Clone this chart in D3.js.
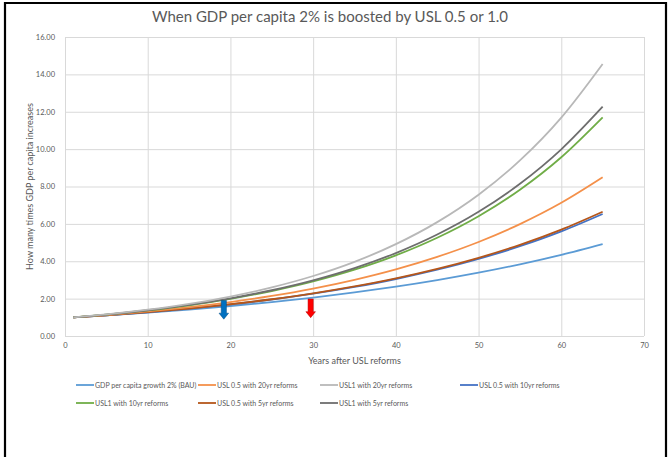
<!DOCTYPE html>
<html><head><meta charset="utf-8">
<script src="https://cdn.jsdelivr.net/npm/d3@7"></script>
<style>
html,body{margin:0;padding:0;background:#fff;}
svg text{font-family:Lato,"Open Sans",sans-serif;}
</style></head>
<body>
<svg id="c" width="669" height="457"></svg>
<script>
// ---- data ----
const years = [1,5,10,15,20,25,30,35,40,45,50,55,60,65];
const bau      = [1.00,1.105,1.251,1.417,1.605,1.817,2.058,2.331,2.640,2.990,3.386,3.835,4.343,4.92];
const usl05_20 = [1.00,1.123,1.313,1.543,1.818,2.146,2.538,3.008,3.567,4.235,5.032,5.987,7.126,8.49];
const usl1_20  = [1.00,1.157,1.407,1.721,2.113,2.602,3.210,3.969,4.914,6.093,7.561,9.397,11.69,14.56];
const usl05_10 = [1.00,1.108,1.270,1.463,1.689,1.954,2.264,2.627,3.050,3.546,4.125,4.804,5.598,6.53];
const usl1_10  = [1.00,1.143,1.368,1.646,1.988,2.407,2.919,3.547,4.316,5.258,6.411,7.828,9.566,11.70];
const usl05_5  = [1.00,1.109,1.273,1.468,1.698,1.967,2.282,2.652,3.084,3.591,4.184,4.879,5.694,6.65];
const usl1_5   = [1.00,1.146,1.377,1.662,2.015,2.448,2.980,3.635,4.439,5.429,6.645,8.145,9.991,12.27];
const seriesNames = ["GDP per capita growth 2% (BAU)","USL 0.5 with 20yr reforms","USL1 with 20yr reforms","USL 0.5 with 10yr reforms","USL1 with 10yr reforms","USL 0.5 with 5yr reforms","USL1 with 5yr reforms"];
const seriesValues = [bau, usl05_20, usl1_20, usl05_10, usl1_10, usl05_5, usl1_5];
const seriesColors = ["#5B9BD5","#F4904A","#B8B8B8","#4472C4","#70AD47","#B5561A","#6E6E6E"];
const xTicks = [0,10,20,30,40,50,60,70];
const yTicks = [0,2,4,6,8,10,12,14,16];
// arrows: x (years), from value, to value
const arrowX = [19.2, 29.7];
const arrowFrom = [1.90, 1.98];
const arrowTo = [0.90, 0.98];
const arrowColors = ["#0070C0","#FF0000"];
const title = "When GDP per capita 2% is boosted by USL 0.5 or 1.0";
const xTitle = "Years after USL reforms";
const yTitle = "How many times GDP per capita increases";

// ---- layout ----
const svg = d3.select("#c");
const L = 65, R = 644, T = 37, B = 336;
const x = d3.scaleLinear().domain([0,70]).range([L,R]);
const y = d3.scaleLinear().domain([0,16]).range([B,T]);
const txt = "#595959";

// outer frame
svg.append("path").attr("d","M5,457 V3 H666 V457").attr("fill","none").attr("stroke","#000").attr("stroke-width",2.2);

// title
svg.append("text").attr("x",330).attr("y",22).attr("text-anchor","middle")
  .attr("font-size",15).attr("fill",txt).text(title);

// gridlines
const g = svg.append("g");
g.selectAll("line.h").data(yTicks).join("line").attr("class","h")
  .attr("x1",L).attr("x2",R).attr("y1",d=>y(d)+0.5).attr("y2",d=>y(d)+0.5)
  .attr("stroke","#D9D9D9").attr("stroke-width",1);
g.selectAll("line.v").data(xTicks).join("line").attr("class","v")
  .attr("y1",T).attr("y2",B).attr("x1",d=>x(d)+0.5).attr("x2",d=>x(d)+0.5)
  .attr("stroke","#D9D9D9").attr("stroke-width",1);

// axes (labels only)
const ya = d3.axisLeft(y).tickValues(yTicks).tickFormat(d3.format(".2f")).tickSize(0).tickPadding(10);
const yg = svg.append("g").attr("transform",`translate(${L},0)`).call(ya);
yg.select(".domain").remove();
yg.selectAll("text").attr("font-size",7.5).attr("fill",txt).style("font-family","Lato,sans-serif");
const xa = d3.axisBottom(x).tickValues(xTicks).tickFormat(d3.format("d")).tickSize(0).tickPadding(7);
const xg = svg.append("g").attr("transform",`translate(0,${B})`).call(xa);
xg.select(".domain").remove();
xg.selectAll("text").attr("font-size",7.5).attr("fill",txt).style("font-family","Lato,sans-serif");

// axis titles
svg.append("text").attr("x",(L+R)/2).attr("y",364).attr("text-anchor","middle")
  .attr("font-size",9).attr("fill",txt).text(xTitle);
svg.append("text").attr("transform",`translate(33,${(T+B)/2}) rotate(-90)`).attr("text-anchor","middle")
  .attr("font-size",9).attr("fill",txt).text(yTitle);

// lines
const line = d3.line().x((d,i)=>x(years[i])).y(d=>y(d)).curve(d3.curveMonotoneX);
const order = [0,3,5,1,4,6,2];
svg.append("g").selectAll("path").data(order).join("path")
  .attr("d",i=>line(seriesValues[i])).attr("fill","none")
  .attr("stroke",i=>seriesColors[i]).attr("stroke-width",1.8);

// arrows
arrowX.forEach((ax,i)=>{
  const cx = x(ax), y0 = y(arrowFrom[i]), y1 = y(arrowTo[i]);
  const hw = 2.6, hh = 4.8, head = 6;
  const p = `M${cx-hw},${y0} H${cx+hw} V${y1-head} H${cx+hh} L${cx},${y1} L${cx-hh},${y1-head} H${cx-hw} Z`;
  svg.append("path").attr("d",p).attr("fill",arrowColors[i]).attr("stroke",d3.color(arrowColors[i]).darker(1)).attr("stroke-width",0.5);
});

// legend
const colX = [76,198,320,460], rowY = [385,403];
const leg = svg.append("g");
seriesNames.forEach((n,i)=>{
  const cx = colX[i%4], cy = rowY[Math.floor(i/4)];
  leg.append("line").attr("x1",cx).attr("x2",cx+18).attr("y1",cy).attr("y2",cy)
    .attr("stroke",seriesColors[i]).attr("stroke-width",1.8);
  leg.append("text").attr("x",cx+19).attr("y",cy+2.5).attr("font-size",7).attr("fill",txt).text(n);
});
</script>
</body></html>
